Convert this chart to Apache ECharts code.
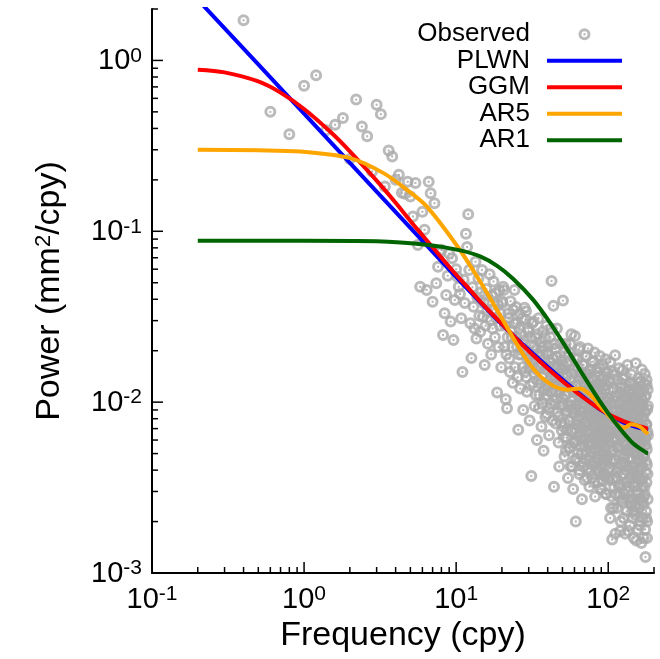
<!DOCTYPE html>
<html><head><meta charset="utf-8">
<script src="https://cdn.jsdelivr.net/npm/echarts@6.0.0/dist/echarts.min.js"></script>
<style>html,body{margin:0;padding:0;background:#fff}#c{width:660px;height:659px}</style>
</head><body><div id="c"></div>
<script>
const FONT = '"Liberation Sans", Arial, Helvetica, sans-serif';
const xRange = [0.1, 200];
const yRange = [0.001, 2];
const xMajorTicks = [0.1, 1, 10, 100];
const yMajorTicks = [0.001, 0.01, 0.1, 1];
const xMinorTicks = [0.2,0.3,0.4,0.5,0.6,0.7,0.8,0.9,2,3,4,5,6,7,8,9,20,30,40,50,60,70,80,90,200];
const yMinorTicks = [0.002,0.003,0.004,0.005,0.006,0.007,0.008,0.009,0.02,0.03,0.04,0.05,0.06,0.07,0.08,0.09,0.2,0.3,0.4,0.5,0.6,0.7,0.8,0.9,2];
const seriesNames = ['Observed', 'PLWN', 'GGM', 'AR5', 'AR1'];

// model curves (frequency in cpy, power in mm^2/cpy)
const plwnFreq = [0.2,1,3,9.1,19.4,32.2,53.6,88.2,125.5,178.7,182.5];
const plwn     = [2.27,0.4886,0.1709,0.0591,0.0293,0.01913,0.01287,0.00906,0.00762,0.00687,0.00683];
const ggmFreq  = [0.2,0.3,0.5,0.7,1,1.5,2,3,4,5,6,7,8.5,10,12,15,19.4,32.2,53.6,88.2,125.5,178.7,182.5];
const ggm      = [0.882,0.851,0.753,0.648,0.52,0.38,0.294,0.198,0.147,0.115,0.0948,0.0806,0.0658,0.0557,0.0466,0.0373,0.0295,0.01875,0.0126,0.00911,0.00775,0.00702,0.007];
const ar5Freq  = [0.2,0.5,0.946,2.01,3.33,4.75,6.42,10.21,14.38,19.45,25.04,32.18,41.41,53.6,65.2,75.8,88.2,107.8,125.5,142.4,161.5,178.7,182.5];
const ar5      = [0.3,0.298,0.293,0.268,0.219,0.1748,0.1395,0.0815,0.0508,0.0323,0.0219,0.01567,0.0128,0.01183,0.01201,0.01108,0.00949,0.00785,0.00705,0.00742,0.00718,0.00662,0.0065];
const ar1Freq  = [0.2,1,3,6.6,10.63,14.38,18.59,23.67,32.03,41.41,53.56,68.24,88.22,114,145.3,179.6,182.5];
const ar1      = [0.088,0.088,0.0875,0.0832,0.0773,0.0713,0.0628,0.0528,0.0398,0.0292,0.0205,0.01443,0.01011,0.00737,0.00575,0.00504,0.00502];

// observed periodogram [frequency, power]
const observed = [
[0.4,1.72],[0.6,0.5],[0.8,0.37],[1,0.71],[1.2,0.82],[1.4,0.39],[1.6,0.42],[1.8,0.46],[2,0.265],[2.2,0.59],[2.4,0.41],[2.6,0.36],[2.8,0.224],[3,0.55],[3.2,0.485],[3.4,0.183],[3.6,0.297],[3.8,0.274],[4,0.2],[4.2,0.214],[4.4,0.168],[4.6,0.166],[4.8,0.195],[5,0.16],[5.2,0.122],[5.4,0.192],[5.6,0.083],[5.8,0.0474],[6,0.13],[6.2,0.102],[6.4,0.0454],[6.6,0.195],[6.8,0.167],[7,0.0387],[7.2,0.146],[7.4,0.0497],[7.6,0.062],[7.8,0.075],[8,0.078],[8.2,0.0247],[8.4,0.0331],[8.6,0.0424],[8.8,0.055],[9,0.074],[9.2,0.0296],[9.4,0.0696],[9.6,0.0231],[9.8,0.0396],[10,0.06],[10.2,0.054],[10.4,0.0474],
[10.6,0.043],[10.8,0.031],[11,0.015],[11.2,0.052],[11.4,0.038],[11.6,0.0966],[11.8,0.081],[12,0.126],[12.2,0.0594],[12.4,0.029],[12.6,0.0181],[12.8,0.047],[13,0.0362],[13.2,0.027],[13.4,0.0664],[13.6,0.0236],[13.8,0.041],[14,0.053],[14.2,0.032],[14.4,0.0258],[14.6,0.044],[14.8,0.0594],[15,0.0316],[15.2,0.038],[15.4,0.0165],[15.6,0.028],[15.8,0.046],[16,0.034],[16.2,0.022],[16.4,0.039],[16.6,0.056],[16.8,0.03],[17,0.019],[17.2,0.042],[17.4,0.027],[17.6,0.0509],[17.8,0.035],[18,0.024],[18.2,0.0434],[18.4,0.031],[18.6,0.0114],[18.8,0.037],[19,0.021],[19.2,0.045],[19.4,0.028],[19.6,0.033],[19.8,0.016],[20,0.039],
[20.2,0.038],[20.4,0.0474],[20.6,0.0454],[20.8,0.021],[21,0.028],[21.2,0.0104],[21.4,0.019],[21.6,0.0092],[21.8,0.024],[22,0.033],[22.2,0.031],[22.4,0.018],[22.6,0.015],[22.8,0.039],[23,0.026],[23.2,0.024],[23.4,0.021],[23.6,0.013],[23.8,0.0347],[24,0.029],[24.2,0.0454],[24.4,0.016],[24.6,0.024],[24.8,0.036],[25,0.029],[25.2,0.021],[25.4,0.014],[25.6,0.0069],[25.8,0.019],[26,0.027],[26.2,0.033],[26.4,0.012],[26.6,0.025],[26.8,0.019],[27,0.022],[27.2,0.031],[27.4,0.016],[27.6,0.009],[27.8,0.02],[28,0.023],[28.2,0.0357],[28.4,0.015],[28.6,0.0305],[28.8,0.034],[29,0.014],[29.2,0.0115],[29.4,0.018],[29.6,0.02],[29.8,0.027],[30,0.026],
[30.2,0.016],[30.4,0.0078],[30.6,0.0125],[30.8,0.017],[31,0.024],[31.2,0.0037],[31.6,0.029],[31.8,0.019],[32,0.013],[32.2,0.0296],[32.4,0.021],[32.6,0.0148],[32.8,0.0095],[33,0.018],[33.2,0.024],[33.4,0.011],[33.6,0.0155],[33.8,0.0205],[34,0.006],[34.2,0.025],[34.4,0.019],[34.6,0.0135],[34.8,0.031],[35,0.0092],[35.2,0.011],[35.4,0.0185],[35.6,0.016],[35.8,0.0128],[36,0.0225],[36.2,0.021],[36.4,0.0072],[36.6,0.0165],[36.8,0.014],[37,0.0098],[37.2,0.026],[37.4,0.021],[37.6,0.0052],[37.8,0.0118],[38,0.018],[38.2,0.024],[38.4,0.0105],[38.6,0.0082],[38.8,0.0125],[39,0.0155],[39.2,0.028],[39.4,0.011],[39.6,0.0085],[39.8,0.0195],[40,0.016],[40.2,0.019],[40.4,0.021],[40.6,0.0125],[40.8,0.0064],[41,0.0092],[41.2,0.0135],[41.4,0.0172],[41.6,0.024],[41.8,0.0115],[42,0.0098],[42.2,0.027],[42.4,0.0512],[42.6,0.0142],[42.8,0.0115],[43,0.0078],[43.2,0.018],[43.4,0.0128],[43.6,0.0366],[43.8,0.0162],[44,0.0032],[44.2,0.022],[44.4,0.014],[44.6,0.0097],[44.8,0.0205],[45,0.0138],[45.2,0.0075],[45.4,0.0185],[45.6,0.0115],[45.8,0.0105],[46,0.027],[46.2,0.0185],[46.4,0.0088],[46.6,0.0126],[46.8,0.016],[47,0.0082],[47.2,0.0058],[47.4,0.0148],[47.6,0.0042],[47.8,0.0112],[48,0.013],[48.2,0.016],[48.4,0.022],[48.6,0.0135],[48.8,0.0095],[49,0.0076],[49.2,0.0175],[49.4,0.0122],[49.6,0.0068],[49.8,0.0155],
[50,0.0105],[50.2,0.0096],[50.4,0.0393],[50.6,0.0164],[50.8,0.0072],[51,0.0062],[51.2,0.0155],[51.4,0.0123],[51.6,0.0048],[51.8,0.0075],[52,0.011],[52.2,0.0206],[52.4,0.022],[52.6,0.0052],[52.8,0.0088],[53,0.011],[53.2,0.0062],[53.4,0.0144],[53.6,0.017],[53.8,0.0069],[54,0.0125],[54.2,0.0089],[54.4,0.0036],[54.6,0.0185],[54.8,0.0095],
[55,0.0054],[55.2,0.0195],[55.4,0.0122],[55.6,0.0078],[55.8,0.0077],[56,0.0054],[56.2,0.0218],[56.4,0.0135],[56.6,0.0042],[56.8,0.0102],[57,0.0096],[57.2,0.025],[57.4,0.0147],[57.6,0.0068],[57.8,0.0067],[58,0.0042],[58.2,0.009],[58.4,0.0118],[58.6,0.0154],[58.8,0.0031],[59,0.0058],[59.2,0.0086],[59.4,0.0115],[59.6,0.016],[59.8,0.007],
[60,0.0058],[60.2,0.018],[60.4,0.0244],[60.6,0.0046],[60.8,0.0092],[61,0.0096],[61.2,0.002],[61.4,0.0126],[61.6,0.0125],[61.8,0.006],[62,0.0074],[62.2,0.0078],[62.4,0.0047],[62.6,0.0162],[62.8,0.0178],[63,0.005],[63.2,0.0098],[63.4,0.0114],[63.6,0.0063],[63.8,0.0072],[64,0.0135],[64.2,0.0204],[64.4,0.0038],[64.6,0.004],[64.8,0.0082],[65,0.009],[65.2,0.021],[65.4,0.0138],[65.6,0.0108],[65.8,0.0062],[66,0.0055],[66.2,0.0084],[66.4,0.0148],[66.6,0.0144],[66.8,0.0071],
[67,0.005],[67.2,0.0027],[67.4,0.0099],[67.6,0.0115],[67.8,0.006],[68,0.0088],[68.2,0.0165],[68.4,0.0044],[68.6,0.0042],[68.8,0.0165],[69,0.0088],[69.2,0.0062],[69.4,0.0116],[69.6,0.0098],[69.8,0.0055],[70,0.0035],[70.2,0.0072],[70.4,0.0128],[70.6,0.0149],[70.8,0.0076],[71,0.0046],[71.2,0.0185],[71.4,0.0105],[71.6,0.0052],[71.8,0.0066],[72,0.0105],[72.2,0.0187],[72.4,0.0068],[72.6,0.0036],[72.8,0.0145],[73,0.0083],[73.2,0.0041],[73.4,0.0127],[73.6,0.0206],[73.8,0.0057],[74,0.0085],[74.2,0.0077],[74.4,0.0058],[74.6,0.0132],[74.8,0.0118],
[75,0.0046],[75.2,0.0032],[75.4,0.0092],[75.6,0.0094],[75.8,0.0056],[76,0.0155],[76.2,0.0153],[76.4,0.0066],[76.6,0.0039],[76.8,0.0048],[77,0.0082],[77.2,0.0112],[77.4,0.0107],[77.6,0.0079],[77.8,0.0051],[78,0.0172],[78.2,0.0066],[78.4,0.0057],[78.6,0.0138],[78.8,0.0036],[79,0.0043],[79.2,0.0101],[79.4,0.0097],[79.6,0.0135],[79.8,0.0061],[80,0.0062],[80.2,0.0173],[80.4,0.0088],[80.6,0.0034],[80.8,0.0045],[81,0.0077],[81.2,0.0195],[81.4,0.0117],[81.6,0.0072],[81.8,0.0053],[82,0.0028],[82.2,0.0071],[82.4,0.0106],[82.6,0.0122],[82.8,0.0125],[83,0.0047],[83.2,0.0054],[83.4,0.0093],[83.6,0.0083],[83.8,0.0057],[84,0.0158],[84.2,0.015],[84.4,0.0041],[84.6,0.004],[84.8,0.0095],
[85,0.0074],[85.2,0.0065],[85.4,0.0098],[85.6,0.0118],[85.8,0.0047],[86,0.0034],[86.2,0.006],[86.4,0.0078],[86.6,0.0126],[86.8,0.0142],[87,0.0039],[87.2,0.0052],[87.4,0.0088],[87.6,0.0099],[87.8,0.0056],[88,0.0186],[88.2,0.0158],[88.4,0.0061],[88.6,0.0031],[88.8,0.0087],[89,0.007],[89.2,0.0043],[89.4,0.0107],[89.6,0.0112],[89.8,0.0048],[90,0.007],[90.2,0.0065],[90.4,0.0128],[90.6,0.0112],[90.8,0.0031],[91,0.0042],[91.2,0.0091],[91.4,0.0084],[91.6,0.0058],[91.8,0.0051],[92,0.0165],[92.2,0.014],[92.4,0.0075],[92.6,0.0035],[92.8,0.0046],[93,0.0075],[93.2,0.0104],[93.4,0.0097],[93.6,0.0137],[93.8,0.0046],[94,0.0064],[94.2,0.0061],[94.4,0.0038],[94.6,0.0125],[94.8,0.0085],
[95,0.0037],[95.2,0.0118],[95.4,0.0084],[95.6,0.0055],[95.8,0.0053],[96,0.0178],[96.2,0.015],[96.4,0.0069],[96.6,0.0029],[96.8,0.0029],[97,0.0066],[97.2,0.0094],[97.4,0.0101],[97.6,0.0126],[97.8,0.0046],[98,0.0049],[98.2,0.0062],[98.4,0.0081],[98.6,0.0106],[98.8,0.0148],[99,0.004],[99.2,0.0062],[99.4,0.0079],[99.6,0.0036],[99.8,0.0048],
[100.2,0.0105],[100.5,0.0059],[100.8,0.0058],[101.1,0.0105],[101.4,0.0132],[101.7,0.0035],[102,0.0041],[102.3,0.0076],[102.6,0.0085],[102.9,0.0021],[103.2,0.0172],[103.5,0.013],[103.8,0.0066],[104.1,0.0046],[104.4,0.0024],[104.7,0.0067],[105,0.0098],[105.3,0.0028],[105.6,0.0052],[105.9,0.0088],[106.2,0.00157],[106.5,0.004],[106.8,0.0121],[107.1,0.0151],[107.4,0.0075],[107.7,0.0052],[108,0.0035],[108.3,0.0024],[108.6,0.0145],[108.9,0.008],[109.2,0.0062],[109.5,0.0032],[109.8,0.0091],
[110.1,0.0107],[110.4,0.0046],[110.7,0.0046],[111,0.0188],[111.3,0.0017],[111.6,0.0071],[111.9,0.0059],[112.2,0.0029],[112.5,0.0091],[112.8,0.0108],[113.1,0.0036],[113.4,0.0055],[113.7,0.0067],[114,0.0082],[114.3,0.0024],[114.6,0.0135],[114.9,0.0115],[115.2,0.0039],[115.5,0.0041],[115.8,0.0068],[116.1,0.0054],[116.4,0.0098],[116.7,0.0028],[117,0.0049],[117.3,0.0079],[117.6,0.0158],[117.9,0.0032],[118.2,0.0077],[118.5,0.0055],[118.8,0.0033],[119.1,0.0099],[119.4,0.0112],[119.7,0.0033],[120,0.00176],[120.3,0.0071],[120.6,0.0088],[120.9,0.002],[121.2,0.0061],[121.5,0.0122],[121.8,0.0128],[122.1,0.0043],[122.4,0.0044],[122.7,0.0063],[123,0.0072],[123.3,0.0026],[123.6,0.0102],[123.9,0.0083],[124.2,0.0027],[124.5,0.0038],[124.8,0.0154],
[125.1,0.0137],[125.4,0.0058],[125.7,0.0047],[126,0.0083],[126.3,0.0021],[126.6,0.0038],[126.9,0.0072],[127.2,0.0119],[127.5,0.0029],[127.8,0.0066],[128.1,0.0103],[128.4,0.0049],[128.7,0.0044],[129,0.0095],[129.3,0.0017],[129.6,0.0142],[129.9,0.0057],[130.2,0.0031],[130.5,0.0087],[130.8,0.0075],[131.1,0.0034],[131.4,0.0056],[131.7,0.0065],[132,0.0108],[132.3,0.0023],[132.6,0.0042],[132.9,0.011],[133.2,0.0089],[133.5,0.004],[133.8,0.0165],[134.1,0.0052],[134.4,0.0064],[134.7,0.0027],[135,0.00176],[135.3,0.0076],[135.6,0.0079],[135.9,0.003],[136.2,0.0117],[136.5,0.0053],[136.8,0.0047],[137.1,0.0095],[137.4,0.0092],[137.7,0.0032],[138,0.0036],[138.3,0.0068],[138.6,0.0131],[138.9,0.0019],[139.2,0.0069],[139.5,0.0118],[139.8,0.0053],[140.1,0.0042],[140.4,0.0101],[140.7,0.0061],[141,0.0026],[141.3,0.0025],[141.6,0.0084],[141.9,0.008],[142.2,0.0145],[142.5,0.0036],[142.8,0.0059],[143.1,0.0128],[143.4,0.0039],[143.7,0.0047],[144,0.0112],[144.3,0.0021],[144.6,0.0073],[144.9,0.0072],
[145.2,0.0023],[145.5,0.0027],[145.8,0.0096],[146.1,0.0097],[146.4,0.0051],[146.7,0.0042],[147,0.0125],[147.3,0.0016],[147.6,0.0065],[147.9,0.0054],[148.2,0.0034],[148.5,0.0083],[148.8,0.0087],[149.1,0.0032],[149.4,0.0023],[149.7,0.0061],[150,0.0106],[150.3,0.0022],[150.6,0.0057],[150.9,0.0104],[151.2,0.0079],[151.5,0.0037],[151.8,0.0169],[152.1,0.0049],[152.4,0.0044],[152.7,0.0025],[153,0.00155],[153.3,0.0072],[153.6,0.0093],[153.9,0.0029],[154.2,0.0068],[154.5,0.005],[154.8,0.0121],[155.1,0.009],[155.4,0.0037],[155.7,0.003],[156,0.0081],[156.3,0.0065],[156.6,0.0054],[156.9,0.0018],[157.2,0.0138],[157.5,0.0112],[157.8,0.0029],[158.1,0.004],[158.4,0.0099],[158.7,0.0058],[159,0.0062],[159.3,0.0024],[159.6,0.0046],[159.9,0.0076],[160.2,0.0114],[160.5,0.0035],[160.8,0.0076],[161.1,0.013],[161.4,0.0019],[161.7,0.0045],[162,0.0089],[162.3,0.002],[162.6,0.0132],[162.9,0.0068],[163.2,0.0052],[163.5,0.0027],[163.8,0.0071],[164.1,0.0097],[164.4,0.0035],[164.7,0.0042],
[165,0.0104],[165.3,0.0015],[165.6,0.0058],[165.9,0.0053],[166.2,0.0155],[166.5,0.008],[166.8,0.0043],[167.1,0.0032],[167.4,0.0082],[167.7,0.006],[168,0.0026],[168.3,0.0021],[168.6,0.0094],[168.9,0.0102],[169.2,0.0066],[169.5,0.0036],[169.8,0.0118],[170.1,0.0048],[170.4,0.0048],[170.7,0.0025],[171,0.0016],[171.3,0.007],[171.6,0.0078],[171.9,0.0028],[172.2,0.0128],[172.5,0.0049],[172.8,0.0056],[173.1,0.0088],[173.4,0.0032],[173.7,0.0029],[174,0.0146],[174.3,0.0063],[174.6,0.0087],[174.9,0.0018],[175.2,0.0061],[175.5,0.0109],[175.8,0.00124],[176.1,0.0039],[176.4,0.0109],[176.7,0.0056],[177,0.0045],[177.3,0.0023],[177.6,0.0021],[177.9,0.0074],[178.2,0.0074],[178.5,0.0034],[178.8,0.0135],[179.1,0.0126],[179.4,0.0053],[179.7,0.0043],[180,0.0016],[180.3,0.002],[180.6,0.0091],[180.9,0.0067],[181.2,0.0038],[181.5,0.0027],[181.8,0.0118],[182.1,0.0095],[182.4,0.0064]
];

const RING = 'path://M0 6A6 6 0 1 0 12 6A6 6 0 1 0 0 6ZM3 6A3 3 0 1 1 9 6A3 3 0 1 1 3 6ZM4.8 6A1.2 1.2 0 1 0 7.2 6A1.2 1.2 0 1 0 4.8 6Z';
const LINE_ICON = 'path://M0 0H75V4H0Z';

function pair(fs, vs) { return fs.map((f, i) => [f, vs[i]]); }
function powLabel(v) {
  const e = Math.log10(v), r = Math.round(e);
  if (Math.abs(e - r) > 1e-6) return '';
  return '{b|10}{e|' + r + '}';
}
const labelRich = {
  b: {fontFamily: FONT, fontSize: 29, color: '#000', lineHeight: 30, verticalAlign: 'bottom'},
  e: {fontFamily: FONT, fontSize: 21, color: '#000', lineHeight: 19, verticalAlign: 'top'}
};

function tickSeries(values, isX, len) {
  return {
    type: 'custom', silent: true, z: 10, animation: false,
    data: values.map(v => isX ? [v, yRange[0]] : [xRange[0], v]),
    renderItem: function (params, api) {
      const p = api.coord([api.value(0), api.value(1)]);
      const shape = isX ? {x1: p[0], y1: p[1], x2: p[0], y2: p[1] - len}
                        : {x1: p[0], y1: p[1], x2: p[0] + len, y2: p[1]};
      return {type: 'line', shape: shape, style: {stroke: '#000', lineWidth: 1.5}};
    }
  };
}

function lineSeries(name, fs, vals, color) {
  return {
    name: name, type: 'line', data: pair(fs, vals), smooth: 0.3,
    symbol: 'none', showSymbol: false, clip: true, z: 3,
    lineStyle: {color: color, width: 4}, itemStyle: {color: color}
  };
}

const chart = echarts.init(document.getElementById('c'), null, {renderer: 'canvas'});
chart.setOption({
  animation: false,
  backgroundColor: '#fff',
  textStyle: {fontFamily: FONT, color: '#000'},
  grid: {left: 152, right: 6, top: 9, bottom: 86, containLabel: false},
  legend: {
    orient: 'vertical', right: 38, top: 21, align: 'right', padding: 0,
    itemWidth: 75, itemHeight: 12, itemGap: 0,
    textStyle: {fontFamily: FONT, fontSize: 26, color: '#000', lineHeight: 26.5, padding: [0, 12, 0, 0]},
    data: [
      {name: seriesNames[0]},
      {name: seriesNames[1], icon: LINE_ICON},
      {name: seriesNames[2], icon: LINE_ICON},
      {name: seriesNames[3], icon: LINE_ICON},
      {name: seriesNames[4], icon: LINE_ICON}
    ]
  },
  xAxis: {
    type: 'log', logBase: 10, min: xRange[0], max: xRange[1],
    name: 'Frequency (cpy)', nameLocation: 'middle', nameGap: 44,
    nameTextStyle: {fontFamily: FONT, fontSize: 34, color: '#000', verticalAlign: 'top'},
    axisLine: {show: true, lineStyle: {color: '#000', width: 2}},
    axisTick: {show: false}, splitLine: {show: false}, minorTick: {show: false},
    axisLabel: {margin: 11, formatter: powLabel, rich: labelRich, showMaxLabel: false}
  },
  yAxis: {
    type: 'log', logBase: 10, min: yRange[0], max: yRange[1],
    name: 'Power (mm{s|2}/cpy)', nameLocation: 'middle', nameGap: 85, nameRotate: 90,
    nameTextStyle: {fontFamily: FONT, fontSize: 34, color: '#000',
      rich: {s: {fontFamily: FONT, fontSize: 22, color: '#000', verticalAlign: 'top', lineHeight: 22}}},
    axisLine: {show: true, lineStyle: {color: '#000', width: 2}},
    axisTick: {show: false}, splitLine: {show: false}, minorTick: {show: false},
    axisLabel: {margin: 10, formatter: powLabel, rich: labelRich, showMaxLabel: false}
  },
  series: [
    {
      name: seriesNames[0], type: 'scatter', data: observed, symbol: RING, symbolSize: 12,
      itemStyle: {color: '#aaaaaa'}, z: 2, silent: true, clip: true
    },
    lineSeries(seriesNames[1], plwnFreq, plwn, '#0000ff'),
    lineSeries(seriesNames[2], ggmFreq, ggm, '#ff0000'),
    lineSeries(seriesNames[3], ar5Freq, ar5, '#ffa500'),
    lineSeries(seriesNames[4], ar1Freq, ar1, '#006400'),
    tickSeries(xMajorTicks, true, 11),
    tickSeries(xMinorTicks, true, 6),
    tickSeries(yMajorTicks, false, 11),
    tickSeries(yMinorTicks, false, 6)
  ]
});
</script>
</body></html>
